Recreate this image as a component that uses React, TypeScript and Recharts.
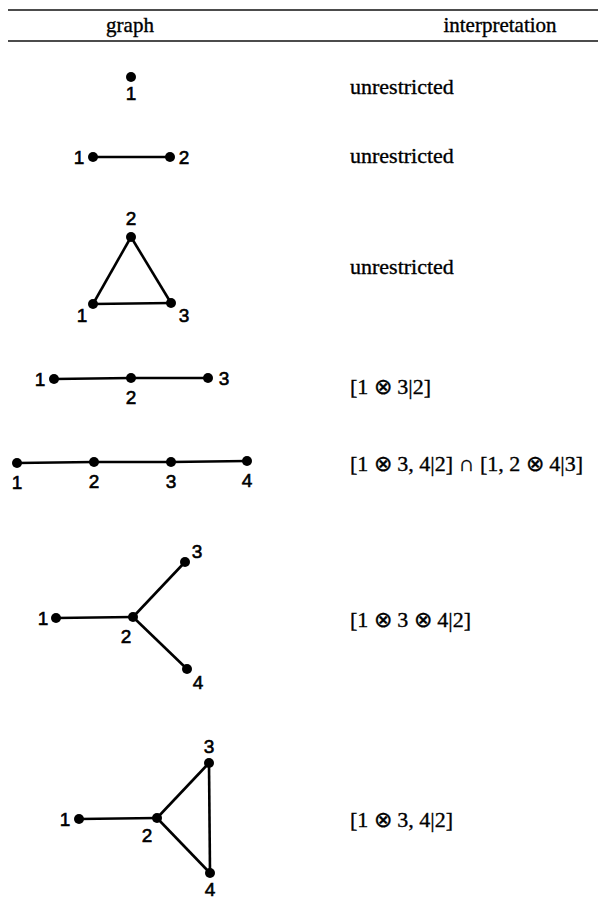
import React from 'react';
import { ScatterChart, Scatter, XAxis, YAxis, ReferenceLine } from 'recharts';

// ---- data ----
const headerLabels = ['graph', 'interpretation'];
const headerX = [130, 500];
const headerY = 25;
const ruleY = [10, 41];

const interpretations = [
  'unrestricted',
  'unrestricted',
  'unrestricted',
  '[1 ⊗ 3|2]',
  '[1 ⊗ 3, 4|2] ∩ [1, 2 ⊗ 4|3]',
  '[1 ⊗ 3 ⊗ 4|2]',
  '[1 ⊗ 3, 4|2]',
];
const interpRowY = [86, 155, 266, 386, 463, 619, 819];
const interpX = 350;

// nodes: graph index, node id, x, y
const nodeGraph = [0, 1, 1, 2, 2, 2, 3, 3, 3, 4, 4, 4, 4, 5, 5, 5, 5, 6, 6, 6, 6];
const nodeId = ['1', '1', '2', '2', '1', '3', '1', '2', '3', '1', '2', '3', '4', '1', '2', '3', '4', '1', '2', '3', '4'];
const nodeX = [131, 93, 170, 131, 93, 171, 54, 131, 208, 17, 94, 171, 247, 56, 133, 185, 187, 79, 157, 209, 210];
const nodeY = [77, 157, 157, 237, 304, 303, 379, 378, 378, 463, 462, 462, 461, 618, 617, 562, 669, 819, 818, 763, 873];

// edges: graph index, from id, to id
const edgeGraph = [1, 2, 2, 2, 3, 3, 4, 4, 4, 5, 5, 5, 6, 6, 6, 6];
const edgeFrom = ['1', '1', '2', '1', '1', '2', '1', '2', '3', '1', '2', '2', '1', '2', '2', '3'];
const edgeTo = ['2', '2', '3', '3', '2', '3', '2', '3', '4', '2', '3', '4', '2', '3', '4', '4'];

// label offsets (style) per node, same order as nodes
const labelDX = [0, -14, 14, 0, -11, 13, -14, 0, 16, 0, 0, 0, 0, -13, -7, 12, 11, -14, -10, 0, 0];
const labelDY = [16, 0, 0, -19, 11, 12, 0, 19, 0, 19, 19, 19, 19, 0, 19, -11, 13, 0, 17, -17, 16];

const W = 598;
const H = 898;

const nodes = nodeId.map((id, i) => ({
  x: nodeX[i],
  y: nodeY[i],
  id,
  g: nodeGraph[i],
  dx: labelDX[i],
  dy: labelDY[i],
}));

const findNode = (g: number, id: string) => nodes.find((n) => n.g === g && n.id === id)!;

const edges = edgeGraph.map((g, i) => [findNode(g, edgeFrom[i]), findNode(g, edgeTo[i])]);

const interpData = interpretations.map((t, i) => ({ x: interpX, y: interpRowY[i], text: t }));
const headerData = headerLabels.map((t, i) => ({ x: headerX[i], y: headerY, text: t }));

const serif = '"Liberation Serif", "Times New Roman", serif';
const sans = '"Liberation Sans", Arial, sans-serif';

const NodeShape = (props: any) => {
  const { cx, cy, payload } = props;
  return (
    <g>
      <circle cx={cx} cy={cy} r={5} fill="#000" />
      <text
        x={cx + payload.dx}
        y={cy + payload.dy}
        textAnchor="middle"
        dominantBaseline="central"
        fontFamily={sans}
        fontSize={19}
        fill="#000"
        stroke="#000"
        strokeWidth={0.6}
      >
        {payload.id}
      </text>
    </g>
  );
};

const TextShape = (anchor: 'start' | 'middle', size: number) => (props: any) => {
  const { cx, cy, payload } = props;
  return (
    <text
      x={cx}
      y={cy}
      textAnchor={anchor}
      dominantBaseline="central"
      fontFamily={serif}
      fontSize={size}
      fill="#000"
      stroke="#000"
      strokeWidth={0.35}
    >
      {payload.text}
    </text>
  );
};

const Empty = () => <g />;

export default function App() {
  return (
    <div style={{ position: 'absolute', left: 0, top: 0, width: W, height: H, background: '#fff' }}>
      <ScatterChart width={W} height={H} margin={{ top: 0, right: 0, bottom: 0, left: 0 }}>
        <XAxis type="number" dataKey="x" domain={[0, W]} hide allowDataOverflow />
        <YAxis type="number" dataKey="y" domain={[0, H]} reversed hide allowDataOverflow />
        {ruleY.map((y, i) => (
          <ReferenceLine
            key={'r' + i}
            segment={[
              { x: 8, y },
              { x: W, y },
            ]}
            stroke="#111"
            strokeWidth={1.6}
          />
        ))}
        {edges.map((e, i) => (
          <Scatter
            key={'e' + i}
            data={e}
            line={{ stroke: '#000', strokeWidth: 2.6 }}
            shape={Empty}
            isAnimationActive={false}
          />
        ))}
        <Scatter data={nodes} shape={NodeShape} isAnimationActive={false} />
        <Scatter data={headerData} shape={TextShape('middle', 21)} isAnimationActive={false} />
        <Scatter data={interpData} shape={TextShape('start', 22)} isAnimationActive={false} />
      </ScatterChart>
    </div>
  );
}
